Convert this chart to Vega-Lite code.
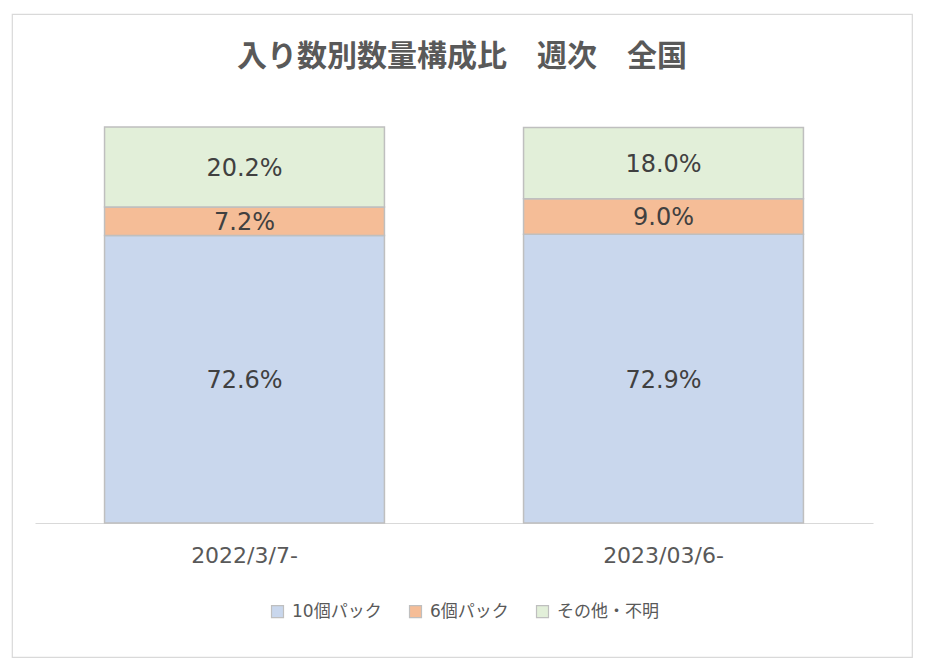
{
  "$schema": "https://vega.github.io/schema/vega-lite/v6.json",
  "description": "入り数別数量構成比 週次 全国 (100% stacked bars)",
  "width": 900,
  "height": 643,
  "autosize": {"type": "none"},
  "padding": {"left": 12, "top": 14, "right": 14, "bottom": 14},
  "background": "#ffffff",
  "title": {
    "text": "入り数別数量構成比　週次　全国",
    "anchor": "middle",
    "frame": "group",
    "offset": -58,
    "font": "Noto Sans CJK JP",
    "fontSize": 30,
    "fontWeight": "bold",
    "color": "#595959"
  },
  "data": {
    "values": [
      {"period": "2022/3/7-", "pack": "10個パック", "idx": 1, "value": 72.6},
      {"period": "2022/3/7-", "pack": "6個パック", "idx": 2, "value": 7.2},
      {"period": "2022/3/7-", "pack": "その他・不明", "idx": 3, "value": 20.2},
      {"period": "2023/03/6-", "pack": "10個パック", "idx": 1, "value": 72.9},
      {"period": "2023/03/6-", "pack": "6個パック", "idx": 2, "value": 9.0},
      {"period": "2023/03/6-", "pack": "その他・不明", "idx": 3, "value": 18.0}
    ]
  },
  "encoding": {
    "x": {
      "field": "period",
      "type": "nominal",
      "sort": null,
      "scale": {"range": [23, 861], "paddingInner": 0.332, "paddingOuter": 0.166},
      "axis": {
        "title": null,
        "orient": "bottom",
        "offset": -134,
        "labelAngle": 0,
        "ticks": false,
        "domainColor": "#d9d9d9",
        "domainWidth": 1.2,
        "labelColor": "#595959",
        "labelFont": "DejaVu Sans",
        "labelFontSize": 22,
        "labelPadding": 22
      }
    }
  },
  "layer": [
    {
      "mark": {"type": "bar", "stroke": "#bfbfbf", "strokeWidth": 1.5},
      "encoding": {
        "y": {
          "field": "value",
          "type": "quantitative",
          "stack": "zero",
          "scale": {"domain": [0, 100], "range": [509, 113]},
          "axis": null
        },
        "order": {"field": "idx", "type": "quantitative", "sort": "ascending"},
        "color": {
          "field": "pack",
          "type": "nominal",
          "scale": {
            "domain": ["10個パック", "6個パック", "その他・不明"],
            "range": ["#c9d7ed", "#f5bd97", "#e2efd9"]
          },
          "legend": {
            "title": null,
            "orient": "none",
            "direction": "horizontal",
            "legendX": 257,
            "legendY": 589,
            "symbolType": "square",
            "symbolSize": 144,
            "symbolStrokeColor": "#bfbfbf",
            "symbolStrokeWidth": 1.2,
            "labelFont": "DejaVu Sans, Noto Sans CJK JP",
            "labelFontSize": 17,
            "labelColor": "#595959",
            "labelOffset": 6,
            "columnPadding": 25
          }
        }
      }
    },
    {
      "transform": [
        {
          "stack": "value",
          "groupby": ["period"],
          "sort": [{"field": "idx", "order": "ascending"}],
          "as": ["v0", "v1"]
        },
        {"calculate": "(datum.v0 + datum.v1) / 2", "as": "mid"},
        {"calculate": "format(datum.value, '.1f') + '%'", "as": "label"}
      ],
      "mark": {
        "type": "text",
        "font": "DejaVu Sans",
        "fontSize": 24,
        "color": "#404040",
        "baseline": "middle",
        "align": "center",
        "dy": 2
      },
      "encoding": {
        "y": {"field": "mid", "type": "quantitative", "scale": {"domain": [0, 100], "range": [509, 113]}},
        "text": {"field": "label", "type": "nominal"}
      }
    }
  ],
  "config": {
    "view": {"stroke": "#d9d9d9", "strokeWidth": 1.2}
  }
}
